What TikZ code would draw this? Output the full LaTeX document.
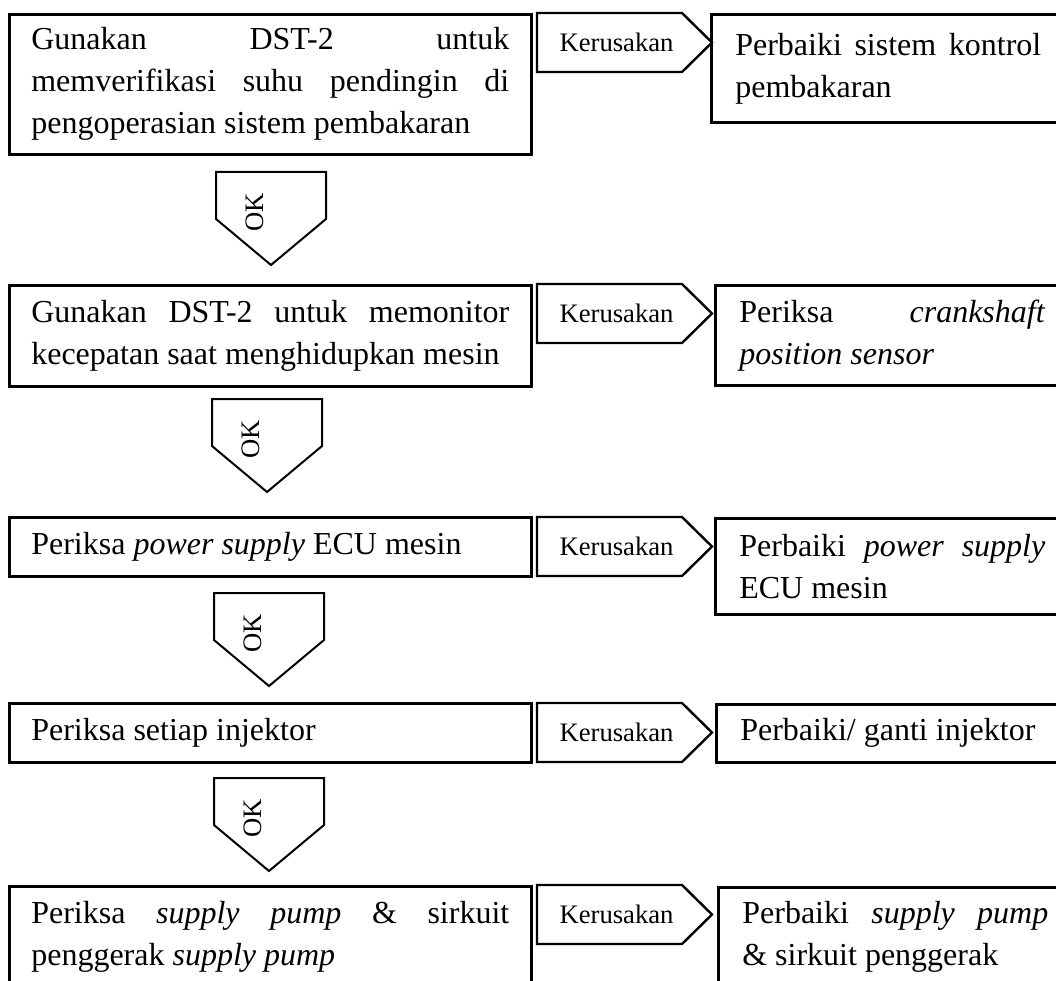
\documentclass[tikz,border=0pt]{standalone}
\usepackage{fontspec}
\setmainfont{Liberation Serif}
\usetikzlibrary{calc}
\tolerance=10000
\hyphenpenalty=10000
\exhyphenpenalty=10000

% pentagon "Kerusakan" arrow: #1 name, #2 top edge
\newcommand\faultarrow[2]{%
  \draw[faultline] (537,#2) -- (682,#2) -- (712,#2+29.5) -- (682,#2+59) -- (537,#2+59) -- cycle;
  \node[faulttext, anchor=west] (#1) at (559,#2+29.5) {Kerusakan};
}
% downward "OK" arrow: #1 name, #2 left edge, #3 top edge
\newcommand\okarrow[3]{%
  \draw[okline] (#2,#3) -- (#2+110,#3) -- (#2+110,#3+47) -- (#2+55,#3+93) -- (#2,#3+47) -- cycle;
  \node[oktext] (#1) at (#2+39,#3+40) {OK};
}

\tikzset{
  stepbox/.style={draw, line width=1pt, rectangle, anchor=north west, inner sep=0pt,
    align=justify, font=\fontsize{12}{15.75}\selectfont},
  leftbox/.style={stepbox, minimum width=195.75pt, text width=179.25pt},
  rightbox/.style={stepbox, minimum width=132.75pt, text width=114.75pt},
  faultline/.style={draw, line width=0.9pt, line join=miter},
  faulttext/.style={inner sep=0pt, font=\fontsize{10}{12}\selectfont},
  okline/.style={draw, line width=0.75pt, line join=miter},
  oktext/.style={inner sep=0pt, rotate=90, font=\fontsize{10}{12}\selectfont},
}

\begin{document}
\begin{tikzpicture}[x=0.375pt, y=-0.375pt]
\useasboundingbox (0,0) rectangle (1056,981);
\clip (0,0) rectangle (1056,981);

% row 1
\node[leftbox, minimum height=52.5pt] (l1) at (8,13)
  {Gunakan DST-2 untuk\linebreak memverifikasi suhu pendingin di\linebreak pengoperasian sistem pembakaran};
\faultarrow{k1}{13}
\node[rightbox, minimum height=40.5pt] (r1) at (710,13)
  {Perbaiki sistem kontrol pembakaran};
\okarrow{o1}{216}{172}

% row 2
\node[leftbox, minimum height=37.875pt] (l2) at (8,284)
  {Gunakan DST-2 untuk memonitor\linebreak kecepatan saat menghidupkan mesin};
\faultarrow{k2}{284}
\node[rightbox, minimum height=37.5pt] (r2) at (714,284)
  {Periksa \textit{crankshaft}\linebreak \textit{position sensor}};
\okarrow{o2}{212}{399}

% row 3
\node[leftbox, minimum height=22.125pt] (l3) at (8,516)
  {Periksa \textit{power supply} ECU mesin};
\faultarrow{k3}{517}
\node[rightbox, minimum height=36pt] (r3) at (714,517)
  {Perbaiki \textit{power supply}\linebreak ECU mesin};
\okarrow{o3}{214}{593}

% row 4
\node[leftbox, minimum height=22.125pt] (l4) at (8,702)
  {Periksa setiap injektor};
\faultarrow{k4}{703}
\node[rightbox, minimum height=21.75pt] (r4) at (715,703)
  {Perbaiki/ ganti injektor};
\okarrow{o4}{214}{778}

% row 5
\node[leftbox, minimum height=37.875pt] (l5) at (8,885)
  {Periksa \textit{supply pump} \& sirkuit\linebreak penggerak \textit{supply pump}};
\faultarrow{k5}{885}
\node[rightbox, minimum height=37.5pt] (r5) at (717,886)
  {Perbaiki \textit{supply pump}\linebreak \& sirkuit penggerak};
\end{tikzpicture}
\end{document}
